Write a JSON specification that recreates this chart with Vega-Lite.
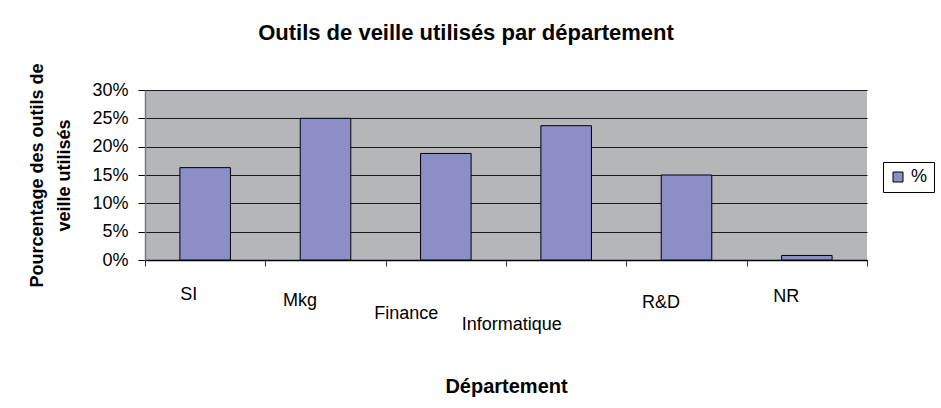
{
  "$schema": "https://vega.github.io/schema/vega-lite/v6.json",
  "autosize": "none",
  "width": 722,
  "height": 170,
  "padding": {"left": 145, "top": 90, "right": 74, "bottom": 148},
  "background": "white",
  "config": {
    "font": "Liberation Sans",
    "view": {"fill": "#B5B6BA", "stroke": null}
  },
  "title": {
    "text": "Outils de veille utilisés par département",
    "font": "Liberation Sans",
    "fontSize": 22,
    "fontWeight": "bold",
    "color": "black",
    "anchor": "middle",
    "dx": -40,
    "baseline": "alphabetic",
    "offset": 1
  },
  "data": {
    "values": [
      {"departement": "SI", "pct": 0.163, "serie": "%"},
      {"departement": "Mkg", "pct": 0.25, "serie": "%"},
      {"departement": "Finance", "pct": 0.188, "serie": "%"},
      {"departement": "Informatique", "pct": 0.237, "serie": "%"},
      {"departement": "R&D", "pct": 0.15, "serie": "%"},
      {"departement": "NR", "pct": 0.008, "serie": "%"}
    ]
  },
  "mark": {"type": "bar", "width": {"band": 0.42}, "stroke": "black", "strokeWidth": 1},
  "encoding": {
    "x": {
      "field": "departement",
      "type": "nominal",
      "sort": null,
      "scale": {"paddingInner": 0, "paddingOuter": 0},
      "axis": {
        "title": "Département",
        "titleFont": "Liberation Sans",
        "titleFontSize": 20,
        "titleFontWeight": "bold",
        "titleColor": "black",
        "titleY": 116,
        "labelAngle": 0,
        "labelFont": "Liberation Sans",
        "labelFontSize": 18,
        "labelColor": "black",
        "labelBaseline": "top",
        "labelOffset": {
          "condition": [
            {"test": "datum.value === 'SI'", "value": -17},
            {"test": "datum.value === 'Mkg'", "value": -26},
            {"test": "datum.value === 'Finance'", "value": -40},
            {"test": "datum.value === 'Informatique'", "value": -55},
            {"test": "datum.value === 'R&D'", "value": -26}
          ],
          "value": -21
        },
        "labelPadding": {
          "condition": [
            {"test": "datum.value === 'SI'", "value": 19},
            {"test": "datum.value === 'Mkg'", "value": 25},
            {"test": "datum.value === 'Finance'", "value": 38},
            {"test": "datum.value === 'Informatique'", "value": 49},
            {"test": "datum.value === 'R&D'", "value": 27}
          ],
          "value": 21
        },
        "tickBand": "extent",
        "tickSize": 6,
        "tickColor": "#333333",
        "domainColor": "black",
        "domainWidth": 1.5
      }
    },
    "y": {
      "field": "pct",
      "type": "quantitative",
      "scale": {"domain": [0, 0.3], "nice": false},
      "axis": {
        "title": ["Pourcentage des outils de", "veille utilisés"],
        "titleFont": "Liberation Sans",
        "titleFontSize": 18,
        "titleFontWeight": "bold",
        "titleColor": "black",
        "titleLineHeight": 27,
        "titlePadding": 18,
        "format": ".0%",
        "values": [0, 0.05, 0.1, 0.15, 0.2, 0.25, 0.3],
        "labelFont": "Liberation Sans",
        "labelFontSize": 18,
        "labelColor": "black",
        "labelPadding": 10,
        "tickSize": 7,
        "tickColor": "black",
        "domainColor": "#7a7a7a",
        "domainWidth": 1.5,
        "grid": true,
        "gridColor": "#1a1a1a",
        "gridWidth": 1.2
      }
    },
    "fill": {
      "field": "serie",
      "type": "nominal",
      "scale": {"range": ["#8C8FC7"]},
      "legend": {
        "title": null,
        "orient": "none",
        "legendX": 738,
        "legendY": 72,
        "symbolType": "square",
        "symbolSize": 100,
        "symbolStrokeColor": "black",
        "symbolStrokeWidth": 1,
        "labelFont": "Liberation Sans",
        "labelFontSize": 18,
        "labelColor": "black",
        "strokeColor": "black",
        "fillColor": "white",
        "padding": 6
      }
    }
  }
}
